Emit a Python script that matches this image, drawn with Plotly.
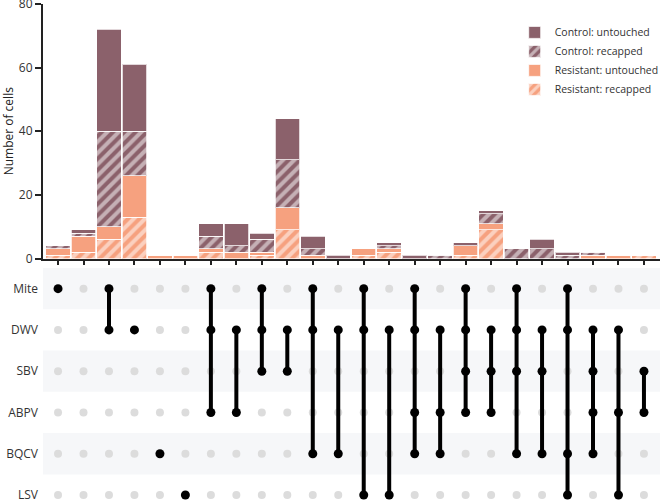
import plotly.graph_objects as go

# ---- data ----
sets = ["Mite", "DWV", "SBV", "ABPV", "BQCV", "LSV"]
combos = [
    "Mite", "", "Mite&DWV", "DWV", "BQCV", "LSV",
    "Mite&DWV&ABPV", "DWV&ABPV", "Mite&DWV&SBV", "DWV&SBV",
    "Mite&DWV&BQCV", "DWV&BQCV", "Mite&DWV&LSV", "DWV&LSV",
    "Mite&DWV&ABPV&BQCV", "DWV&ABPV&BQCV", "Mite&DWV&SBV&ABPV", "DWV&SBV&ABPV",
    "Mite&DWV&SBV&BQCV", "DWV&SBV&BQCV", "Mite&DWV&BQCV&LSV", "DWV&SBV&ABPV&BQCV",
    "DWV&ABPV&LSV", "SBV&ABPV",
]
res_recapped = [1, 2, 6, 13, 0, 0, 2, 0, 1, 9, 0, 0, 1, 2, 0, 0, 1, 9, 0, 0, 0, 0, 0, 1]
res_untouched = [2, 5, 4, 13, 1, 1, 1, 2, 1, 7, 1, 0, 2, 1, 0, 0, 3, 2, 0, 0, 0, 1, 1, 0]
ctrl_recapped = [1, 1, 30, 14, 0, 0, 4, 2, 4, 15, 2, 0, 0, 1, 0, 1, 0, 3, 3, 3, 1, 1, 0, 0]
ctrl_untouched = [0, 1, 32, 21, 0, 0, 4, 7, 2, 13, 4, 1, 0, 1, 1, 0, 1, 1, 0, 3, 1, 0, 0, 0]
y_ticks = [0, 20, 40, 60, 80]

PURPLE = "#8B616B"
ORANGE = "#F6A17F"
FONT = "Open Sans"

xs = list(range(1, len(combos) + 1))
row_y = {s: len(sets) - 1 - i for i, s in enumerate(sets)}

fig = go.Figure()

def bar(name, vals, color, hatched):
    marker = dict(color=color, line=dict(color="rgba(255,255,255,0.75)", width=1))
    if hatched:
        marker["pattern"] = dict(shape="/", fgcolor="white", bgcolor=color,
                                 size=8, solidity=0.5)
    fig.add_trace(go.Bar(x=xs, y=vals, name=name, marker=marker,
                         xaxis="x", yaxis="y"))

bar("Resistant: recapped", res_recapped, ORANGE, True)
bar("Resistant: untouched", res_untouched, ORANGE, False)
bar("Control: recapped", ctrl_recapped, PURPLE, True)
bar("Control: untouched", ctrl_untouched, PURPLE, False)

# ---- matrix ----
gx, gy, bx, by, lx, ly = [], [], [], [], [], []
for x, c in zip(xs, combos):
    members = [s for s in c.split("&") if s]
    for s in sets:
        if s in members:
            bx.append(x); by.append(row_y[s])
        else:
            gx.append(x); gy.append(row_y[s])
    if len(members) > 1:
        ys = [row_y[s] for s in members]
        lx += [x, x, None]; ly += [min(ys), max(ys), None]

fig.add_trace(go.Scatter(x=gx, y=gy, mode="markers", showlegend=False, hoverinfo="skip",
                         marker=dict(color="#DCDCDC", size=8), xaxis="x2", yaxis="y2"))
fig.add_trace(go.Scatter(x=lx, y=ly, mode="lines", showlegend=False, hoverinfo="skip",
                         line=dict(color="black", width=4), xaxis="x2", yaxis="y2"))
fig.add_trace(go.Scatter(x=bx, y=by, mode="markers", showlegend=False, hoverinfo="skip",
                         marker=dict(color="black", size=9), xaxis="x2", yaxis="y2"))

shapes = []
for s in sets[::2]:
    r = row_y[s]
    shapes.append(dict(type="rect", xref="x2 domain", yref="y2", x0=0, x1=1,
                       y0=r - 0.5, y1=r + 0.5, fillcolor="#F6F7F9",
                       line=dict(width=0), layer="below"))

H = 500
top_bottom = (H - 258.5) / 496
mat_top = (H - 268) / 496
xr = [0.41, 24.63]

fig.update_layout(
    width=661, height=500,
    margin=dict(l=43, r=1, t=4, b=0, autoexpand=False),
    paper_bgcolor="white", plot_bgcolor="white",
    barmode="stack", bargap=0.04,
    font=dict(family=FONT, size=12, color="#333333"),
    shapes=shapes,
    showlegend=True,
    legend=dict(x=0.7645, y=0.972, xanchor="left", yanchor="top",
                traceorder="reversed", font=dict(size=10.5, color="#333333"),
                bgcolor="rgba(0,0,0,0)", tracegroupgap=0, itemwidth=30,
                borderwidth=0),
    xaxis=dict(domain=[0, 1], range=xr, anchor="y", showgrid=False, zeroline=False,
               showline=True, linecolor="#222222", linewidth=2,
               ticks="outside", ticklen=4, tickwidth=1.5, tickcolor="#222222",
               tickvals=xs, showticklabels=False),
    yaxis=dict(domain=[top_bottom, 1], range=[0, 80], anchor="x",
               tickvals=y_ticks, showgrid=False, zeroline=False,
               showline=True, linecolor="#222222", linewidth=2,
               ticks="outside", ticklen=6, tickwidth=2, tickcolor="#222222",
               ticklabeloverflow="allow",
               tickfont=dict(size=12, color="#333333"),
               title=dict(text="Number of cells", font=dict(size=12, color="#222222"),
                          standoff=8)),
    xaxis2=dict(domain=[0, 1], range=xr, anchor="y2", matches="x", visible=False),
    yaxis2=dict(domain=[0, mat_top], range=[-0.12, 5.5], anchor="x2",
                tickvals=[row_y[s] for s in sets], ticktext=sets,
                showgrid=False, zeroline=False, showline=False, ticks="",
                ticklabelstandoff=4, ticklabeloverflow="allow",
                tickfont=dict(size=12, color="#333333")),
)

fig.write_html("out.html")
